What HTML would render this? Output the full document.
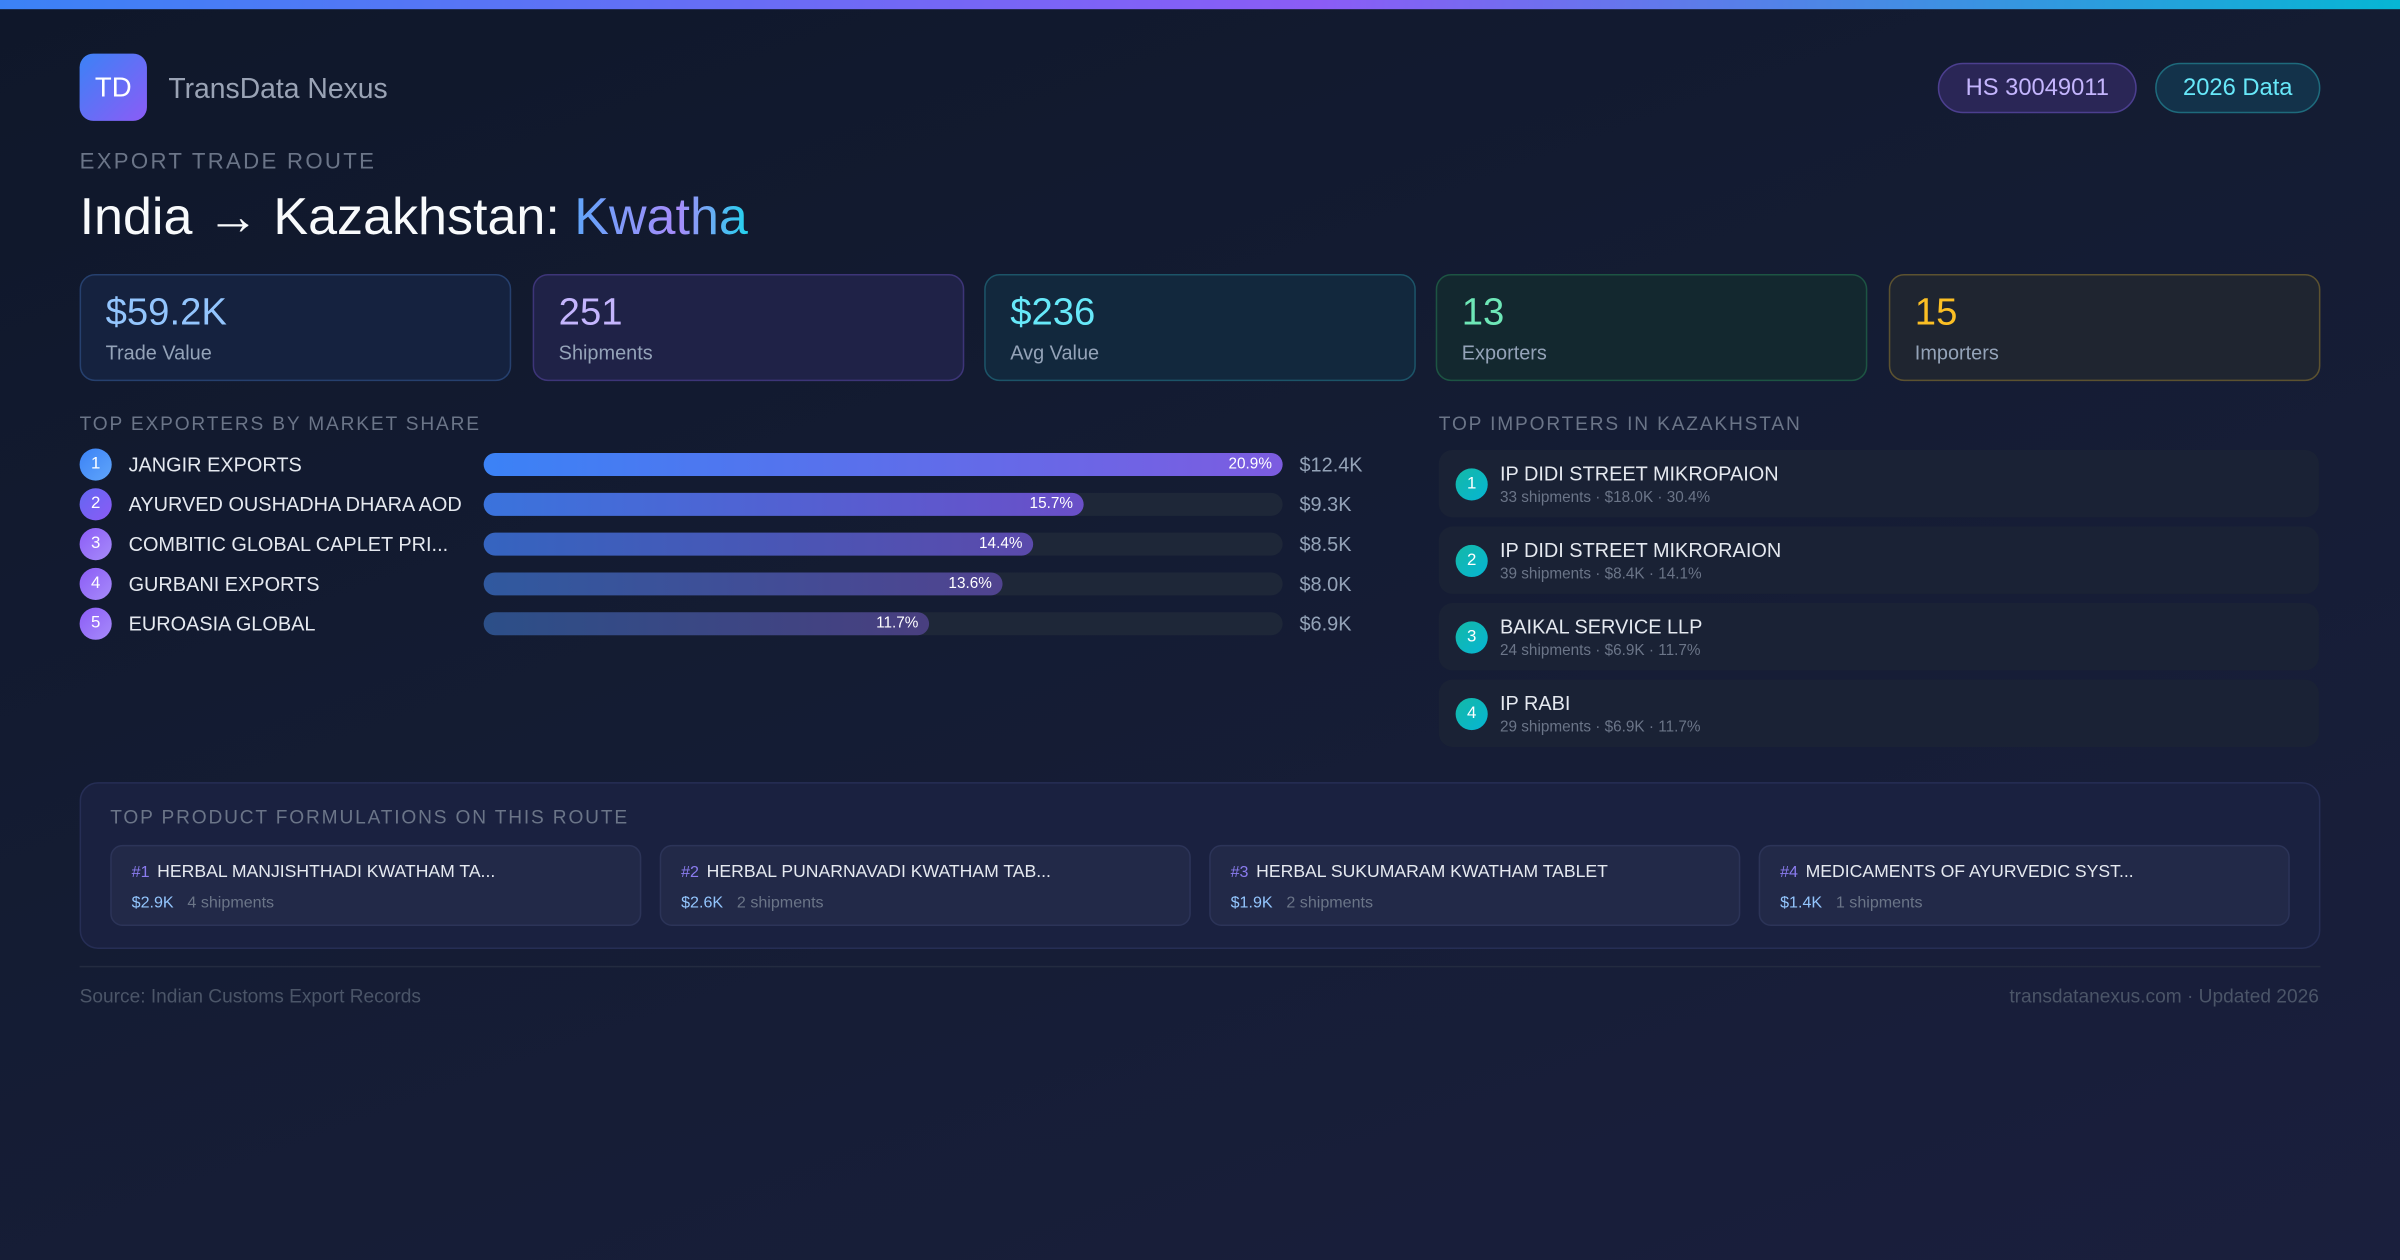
<!DOCTYPE html>
<html><head><meta charset="utf-8"><style>
*{margin:0;padding:0;box-sizing:border-box}
html,body{width:2400px;height:1260px;overflow:hidden;background:#111a2e}
#s{width:1568px;height:824px;transform:scale(1.530613);transform-origin:0 0;position:relative;
font-family:"Liberation Sans",sans-serif;color:#e5e9f0;
background:linear-gradient(160deg,#0f172a 0%,#141c33 45%,#1a1f3d 100%)}
.a{position:absolute;white-space:nowrap}
.top{left:0;top:0;width:1568px;height:6px;background:linear-gradient(90deg,#3b82f6,#8b5cf6 55%,#06b6d4)}
.logo{left:52px;top:35px;width:44px;height:44px;border-radius:9px;background:linear-gradient(135deg,#3b82f6,#8b5cf6);color:#fff;font-size:18px;line-height:44px;text-align:center}
.pill{top:41px;height:33px;border-radius:17px;font-size:15.5px;line-height:32px;text-align:center}
.card{top:179px;width:282px;height:70px;border-radius:10px;border:1px solid}
.card .v{position:absolute;left:16px;top:10px;font-size:25px}
.card .l{position:absolute;left:16px;top:43px;font-size:13px;color:#94a3b8}
.sec{font-size:12.5px;letter-spacing:1.2px;color:#6b7588}
.num{width:21px;height:21px;border-radius:50%;color:#fff;font-size:11px;line-height:21px;text-align:center}
.en{font-size:13px;color:#e5e9f0}
.track{left:316px;width:522px;height:15px;border-radius:8px;background:#1e2738}
.bar{position:absolute;left:0;top:0;height:15px;border-radius:8px;font-size:10px;color:#fff;text-align:right;padding-right:7px;line-height:15px}
.ev{left:849px;font-size:13px;color:#94a3b8}
.imp{left:940px;width:575px;height:44px;border-radius:9px;background:#1a2235}
.imp .n{position:absolute;left:11px;top:12px;width:21px;height:21px;border-radius:50%;background:linear-gradient(135deg,#14b8a6,#06b6d4);color:#fff;font-size:11px;line-height:21px;text-align:center}
.imp .t{position:absolute;left:40px;top:8px;font-size:13px;color:#e5e9f0;white-space:nowrap}
.imp .s{position:absolute;left:40px;top:26px;font-size:10px;color:#6b7588;white-space:nowrap}
.pc{top:552px;width:347px;height:53px;border-radius:8px;background:#222948;border:1px solid #2c3458}
.pc .t{position:absolute;left:13px;top:11px;font-size:11.5px;color:#e5e9f0;white-space:nowrap}
.pc .t b{font-weight:normal;color:#8b7cf0;margin-right:5px;font-size:10.5px}
.pc .s{position:absolute;left:13px;top:31px;font-size:10.5px;color:#6b7588;white-space:nowrap}
.pc .s b{font-weight:normal;color:#93c5fd;margin-right:9px}
</style></head><body><div id="s">
<div class="a top"></div>
<div class="a logo">TD</div>
<div class="a" style="left:110px;top:47px;font-size:18.5px;color:#9aa3b5">TransData Nexus</div>
<div class="a pill" style="left:1266px;width:130px;background:#2a2656;border:1px solid #4c3f8f;color:#c4b5fd">HS 30049011</div>
<div class="a pill" style="left:1408px;width:108px;background:#13324a;border:1px solid #1e6a7c;color:#67e8f9">2026 Data</div>
<div class="a" style="left:52px;top:98px;font-size:14.5px;letter-spacing:1.5px;color:#6b7588">EXPORT TRADE ROUTE</div>
<div class="a" style="left:52px;top:123px;font-size:34px;color:#f8fafc">India → Kazakhstan: <span style="background:linear-gradient(90deg,#60a5fa,#a78bfa 60%,#22d3ee);-webkit-background-clip:text;background-clip:text;color:transparent">Kwatha</span></div>

<div class="a card" style="left:52px;background:#15223f;border-color:#26406e"><div class="v" style="color:#93c5fd">$59.2K</div><div class="l">Trade Value</div></div>
<div class="a card" style="left:348px;background:#1f2247;border-color:#3d3578"><div class="v" style="color:#c4b5fd">251</div><div class="l">Shipments</div></div>
<div class="a card" style="left:643px;background:#12283d;border-color:#1c5468"><div class="v" style="color:#67e8f9">$236</div><div class="l">Avg Value</div></div>
<div class="a card" style="left:938px;background:#13282f;border-color:#1d5443"><div class="v" style="color:#6ee7b7">13</div><div class="l">Exporters</div></div>
<div class="a card" style="left:1234px;background:#1f2530;border-color:#5c5230"><div class="v" style="color:#fbbf24">15</div><div class="l">Importers</div></div>

<div class="a sec" style="left:52px;top:270px">TOP EXPORTERS BY MARKET SHARE</div>
<div class="a sec" style="left:940px;top:270px">TOP IMPORTERS IN KAZAKHSTAN</div>

<div class="a num" style="left:52px;top:293px;background:linear-gradient(135deg,#3b82f6,#60a5fa)">1</div>
<div class="a en" style="left:84px;top:296px">JANGIR EXPORTS</div>
<div class="a track" style="top:296px"><div class="bar" style="width:522px;background:linear-gradient(90deg,#3b82f6,#7c5ce0)">20.9%</div></div>
<div class="a ev" style="top:296px">$12.4K</div>

<div class="a num" style="left:52px;top:319px;background:linear-gradient(135deg,#6366f1,#8b5cf6)">2</div>
<div class="a en" style="left:84px;top:322px">AYURVED OUSHADHA DHARA AOD</div>
<div class="a track" style="top:322px"><div class="bar" style="width:392px;background:linear-gradient(90deg,#3a73dc,#6a4fc8)">15.7%</div></div>
<div class="a ev" style="top:322px">$9.3K</div>

<div class="a num" style="left:52px;top:345px;background:linear-gradient(135deg,#8b5cf6,#a78bfa)">3</div>
<div class="a en" style="left:84px;top:348px">COMBITIC GLOBAL CAPLET PRI...</div>
<div class="a track" style="top:348px"><div class="bar" style="width:359px;background:linear-gradient(90deg,#3564c0,#5b4aac)">14.4%</div></div>
<div class="a ev" style="top:348px">$8.5K</div>

<div class="a num" style="left:52px;top:371px;background:linear-gradient(135deg,#8b5cf6,#a78bfa)">4</div>
<div class="a en" style="left:84px;top:374px">GURBANI EXPORTS</div>
<div class="a track" style="top:374px"><div class="bar" style="width:339px;background:linear-gradient(90deg,#30599f,#50438f)">13.6%</div></div>
<div class="a ev" style="top:374px">$8.0K</div>

<div class="a num" style="left:52px;top:397px;background:linear-gradient(135deg,#8b5cf6,#a78bfa)">5</div>
<div class="a en" style="left:84px;top:400px">EUROASIA GLOBAL</div>
<div class="a track" style="top:400px"><div class="bar" style="width:291px;background:linear-gradient(90deg,#2c4f88,#493f80)">11.7%</div></div>
<div class="a ev" style="top:400px">$6.9K</div>

<div class="a imp" style="top:294px"><div class="n">1</div><div class="t">IP DIDI STREET MIKROPAION</div><div class="s">33 shipments · $18.0K · 30.4%</div></div>
<div class="a imp" style="top:344px"><div class="n">2</div><div class="t">IP DIDI STREET MIKRORAION</div><div class="s">39 shipments · $8.4K · 14.1%</div></div>
<div class="a imp" style="top:394px"><div class="n">3</div><div class="t">BAIKAL SERVICE LLP</div><div class="s">24 shipments · $6.9K · 11.7%</div></div>
<div class="a imp" style="top:444px"><div class="n">4</div><div class="t">IP RABI</div><div class="s">29 shipments · $6.9K · 11.7%</div></div>

<div class="a" style="left:52px;top:511px;width:1464px;height:109px;border-radius:12px;background:#1a2140;border:1px solid #262e55"></div>
<div class="a sec" style="left:72px;top:527px">TOP PRODUCT FORMULATIONS ON THIS ROUTE</div>
<div class="a pc" style="left:72px"><div class="t"><b>#1</b>HERBAL MANJISHTHADI KWATHAM TA...</div><div class="s"><b>$2.9K</b>4 shipments</div></div>
<div class="a pc" style="left:431px"><div class="t"><b>#2</b>HERBAL PUNARNAVADI KWATHAM TAB...</div><div class="s"><b>$2.6K</b>2 shipments</div></div>
<div class="a pc" style="left:790px"><div class="t"><b>#3</b>HERBAL SUKUMARAM KWATHAM TABLET</div><div class="s"><b>$1.9K</b>2 shipments</div></div>
<div class="a pc" style="left:1149px"><div class="t"><b>#4</b>MEDICAMENTS OF AYURVEDIC SYST...</div><div class="s"><b>$1.4K</b>1 shipments</div></div>

<div class="a" style="left:52px;top:631px;width:1464px;height:1px;background:#232b40"></div>
<div class="a" style="left:52px;top:644px;font-size:12.5px;color:#4b5568">Source: Indian Customs Export Records</div>
<div class="a" style="right:53px;top:644px;font-size:12.5px;color:#4b5568">transdatanexus.com · Updated 2026</div>
</div></body></html>
